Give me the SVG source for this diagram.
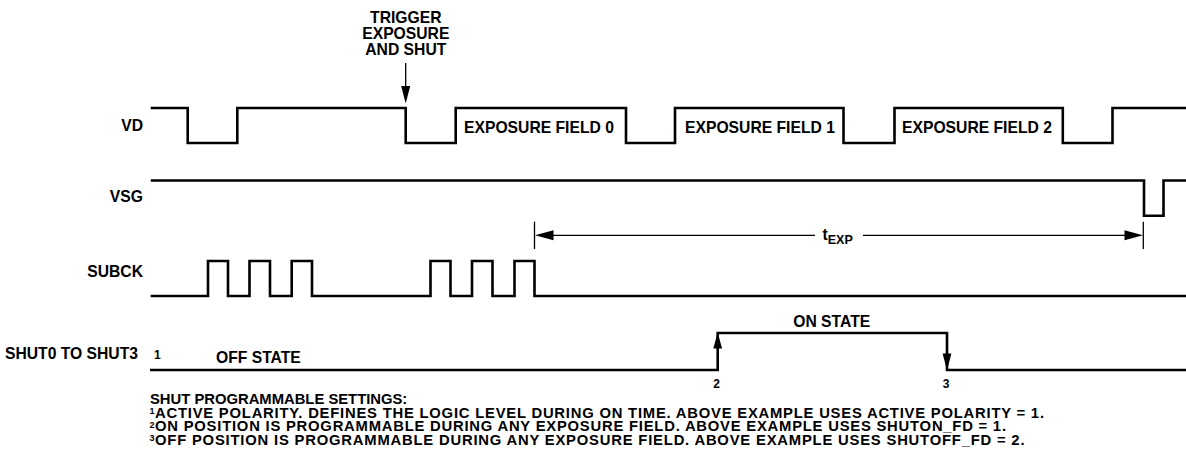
<svg xmlns="http://www.w3.org/2000/svg" width="1186" height="466" viewBox="0 0 1186 466">
<style>
text{font-family:"Liberation Sans",Arial,Helvetica,sans-serif;font-weight:bold;fill:#000;font-size:15.7px}
.lbl{text-anchor:end}
.mid{text-anchor:middle}
.sm{font-size:12px}
.fn{font-size:14.8px}
.sup{font-size:9px}
.wave{fill:none;stroke:#000;stroke-width:2.6;stroke-linejoin:miter;stroke-linecap:butt}
.thin{fill:none;stroke:#000;stroke-width:1.3}
.head{fill:#000;stroke:none}
</style>
<rect width="1186" height="466" fill="#fff"/>

<g id="trigger">
<text class="mid" x="405.8" y="23">TRIGGER</text>
<text class="mid" x="405.8" y="39">EXPOSURE</text>
<text class="mid" x="405.8" y="55">AND SHUT</text>
</g>

<g id="vd">
<text class="lbl" x="143" y="130.7">VD</text>
<path class="wave" d="M150.7 108 H187.7 V143 H237.3 V108 H405.7 V143 H455.7 V108 H626 V143 H675 V108 H843.5 V143 H894.5 V108 H1062.8 V143 H1112.5 V108 H1186"/>
<text x="464" y="133.3">EXPOSURE FIELD 0</text>
<text x="685" y="133.3">EXPOSURE FIELD 1</text>
<text x="902" y="133.3">EXPOSURE FIELD 2</text>
</g>

<g id="vsg">
<text class="lbl" x="143" y="201.7">VSG</text>
<path class="wave" d="M150.7 180.5 H1144 V215.7 H1163.5 V180.5 H1186"/>
</g>

<g id="subck">
<text class="lbl" x="143" y="277">SUBCK</text>
<path class="wave" d="M150.7 296 H208 V261 H228 V296 H249.5 V261 H270 V296 H291.7 V261 H312 V296 H430.5 V261 H450.5 V296 H472 V261 H492.5 V296 H514.5 V261 H534.5 V296 H1186"/>
</g>

<g id="shut">
<text class="lbl" x="138" y="359.3">SHUT0 TO SHUT3</text>
<text class="sm" x="154" y="359.3">1</text>
<path class="wave" d="M150 370 H717.7 V333 H947 V370 H1186"/>
<text x="216" y="363.3">OFF STATE</text>
<text class="mid" x="831.7" y="327.3">ON STATE</text>
<text class="sm mid" x="716.5" y="388">2</text>
<text class="sm mid" x="946" y="388">3</text>
</g>

<g id="connectors">
<line class="thin" x1="405.7" y1="63" x2="405.7" y2="88"/>
<polygon class="head" points="401.2,86 410.2,86 405.7,103.5"/>
<polygon class="head" points="713.3,348.5 722.1,348.5 717.7,332.5"/>
<polygon class="head" points="942.6,353.5 951.4,353.5 947,370.5"/>
<line class="thin" x1="534.5" y1="221.7" x2="534.5" y2="249"/>
<line class="thin" x1="1143.3" y1="221.7" x2="1143.3" y2="249"/>
<line class="thin" x1="550" y1="235.3" x2="815" y2="235.3"/>
<line class="thin" x1="863" y1="235.3" x2="1128" y2="235.3"/>
<polygon class="head" points="535,235.3 553.5,230.3 553.5,240.3"/>
<polygon class="head" points="1143,235.3 1124.5,230.3 1124.5,240.3"/>
<text x="822.5" y="240">t<tspan font-size="12.5px" dy="4">EXP</tspan></text>
</g>

<g id="notes">
<text class="fn" x="150" y="403.5">SHUT PROGRAMMABLE SETTINGS:</text>
<text class="sup" x="149.5" y="414">1</text>
<text class="fn" x="155" y="417.7" textLength="889" lengthAdjust="spacing">ACTIVE POLARITY. DEFINES THE LOGIC LEVEL DURING ON TIME. ABOVE EXAMPLE USES ACTIVE POLARITY = 1.</text>
<text class="sup" x="149.5" y="427.7">2</text>
<text class="fn" x="155" y="431.4" textLength="851" lengthAdjust="spacing">ON POSITION IS PROGRAMMABLE DURING ANY EXPOSURE FIELD. ABOVE EXAMPLE USES SHUTON_FD = 1.</text>
<text class="sup" x="149.5" y="441.4">3</text>
<text class="fn" x="155" y="445.1" textLength="869.5" lengthAdjust="spacing">OFF POSITION IS PROGRAMMABLE DURING ANY EXPOSURE FIELD. ABOVE EXAMPLE USES SHUTOFF_FD = 2.</text>
</g>
</svg>
